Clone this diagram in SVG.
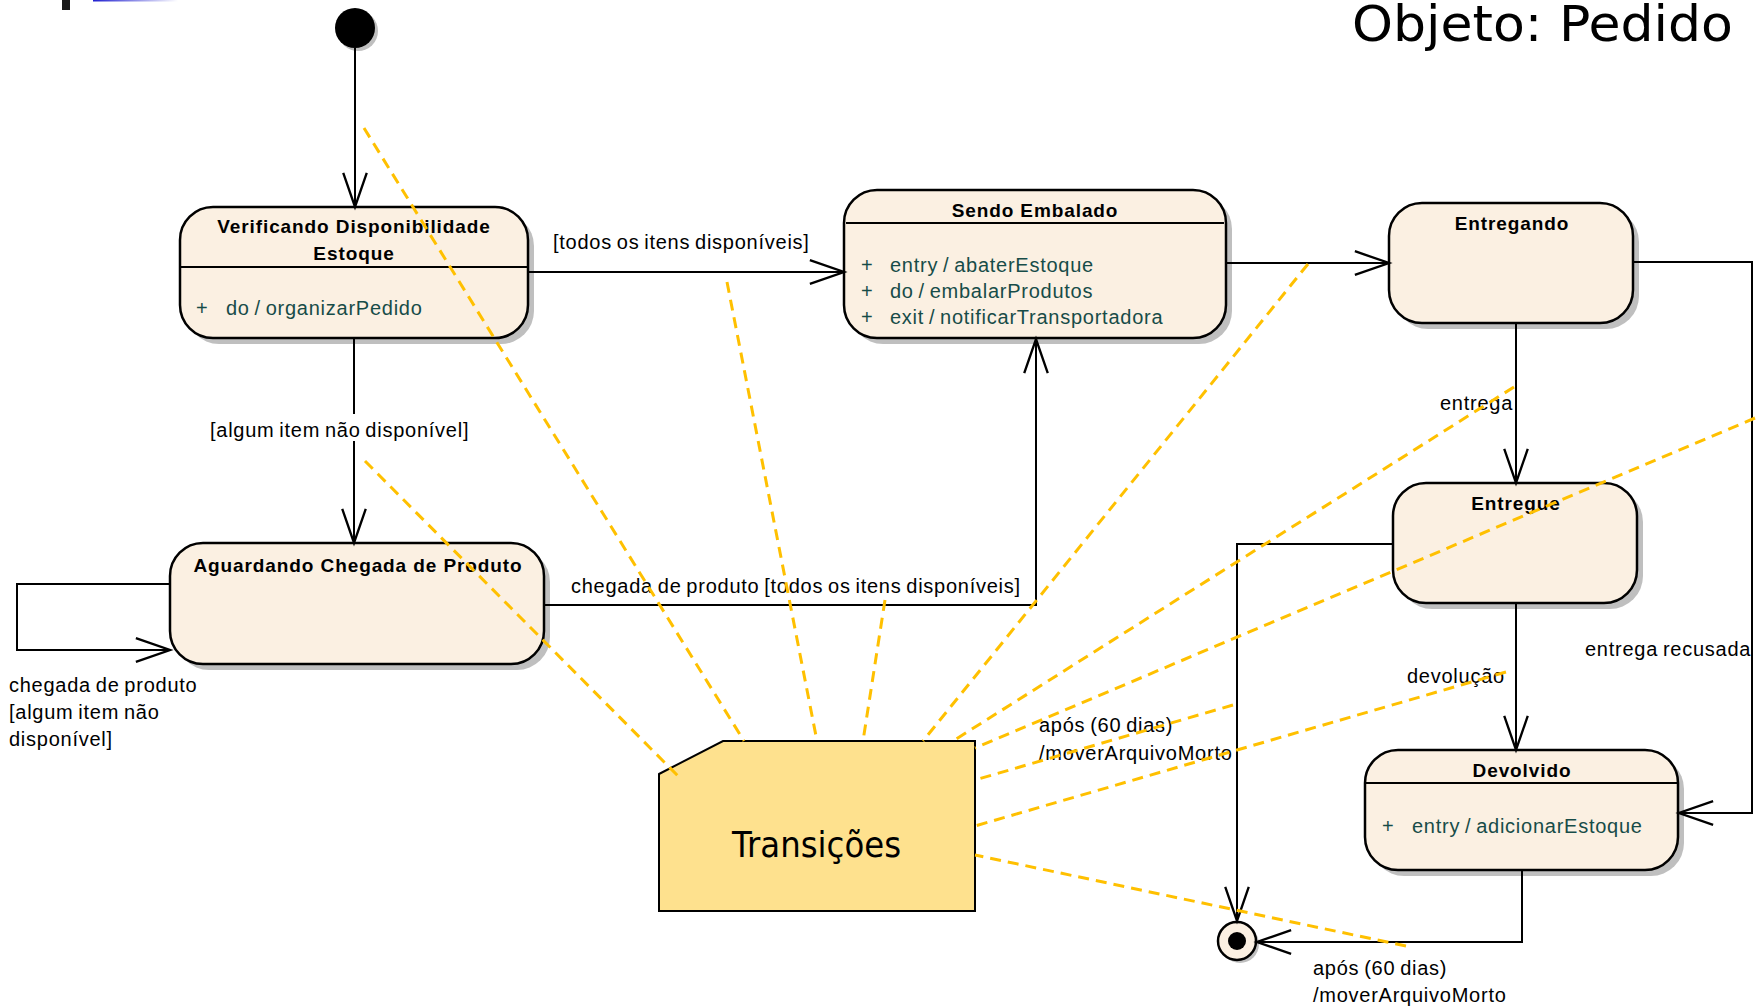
<svg xmlns="http://www.w3.org/2000/svg" width="1761" height="1008" viewBox="0 0 1761 1008">
<style>
.box{fill:#FBF0E2;stroke:#000;stroke-width:2.5}
.shd{fill:#BFBFBF}
.sep{stroke:#000;stroke-width:2}
.ttl{font-family:"Liberation Sans",Arial,sans-serif;font-size:19px;font-weight:bold;letter-spacing:0.9px;fill:#000;text-anchor:middle}
.op{font-family:"Liberation Sans",Arial,sans-serif;font-size:20px;letter-spacing:0.75px;word-spacing:-1.5px;fill:#174C48}
.lbl{font-family:"Liberation Sans",Arial,sans-serif;font-size:20px;letter-spacing:0.75px;word-spacing:-1.5px;fill:#000}
.con{fill:none;stroke:#000;stroke-width:2}
.dash{fill:none;stroke:#FFC000;stroke-width:3;stroke-dasharray:11 7}
</style>
<defs>
<marker id="arr" markerUnits="userSpaceOnUse" markerWidth="40" markerHeight="30" viewBox="-32 -12 34 24" refX="0" refY="0" orient="auto" overflow="visible">
<path d="M-29,-10 L0,0 L-29,10" fill="none" stroke="#000" stroke-width="2"/>
</marker>
<linearGradient id="bl" x1="0" x2="1" y1="0" y2="0">
<stop offset="0" stop-color="#2020D0"/>
<stop offset="1" stop-color="#FFFFFF"/>
</linearGradient>
</defs>
<rect width="1761" height="1008" fill="#fff"/>
<rect x="62" y="0" width="8" height="10" fill="#1a1a1a"/>
<rect x="93" y="0" width="85" height="1.5" fill="url(#bl)"/>
<text x="1352" y="41" font-family="'DejaVu Sans',Tahoma,sans-serif" font-size="49" textLength="381" lengthAdjust="spacingAndGlyphs" fill="#000">Objeto: Pedido</text>

<g id="initial">
<circle cx="358" cy="31" r="20" class="shd"/>
<circle cx="355" cy="28" r="20" fill="#000"/>
</g>

<g id="verificando">
<rect x="186" y="213" width="348" height="131" rx="33" class="shd"/>
<rect x="180" y="207" width="348" height="131" rx="33" class="box"/>
<line x1="180" y1="267" x2="528" y2="267" class="sep"/>
<text x="354" y="233" class="ttl">Verificando Disponibilidade</text>
<text x="354" y="260" class="ttl">Estoque</text>
<text x="196" y="315" class="op">+</text>
<text x="226" y="315" class="op">do / organizarPedido</text>
</g>

<g id="sendo">
<rect x="850" y="196" width="382" height="148" rx="33" class="shd"/>
<rect x="844" y="190" width="382" height="148" rx="33" class="box"/>
<line x1="846" y1="223" x2="1224" y2="223" class="sep"/>
<text x="1035" y="217" class="ttl">Sendo Embalado</text>
<text x="861" y="272" class="op">+</text>
<text x="890" y="272" class="op">entry / abaterEstoque</text>
<text x="861" y="298" class="op">+</text>
<text x="890" y="298" class="op">do / embalarProdutos</text>
<text x="861" y="324" class="op">+</text>
<text x="890" y="324" class="op">exit / notificarTransportadora</text>
</g>

<g id="entregando">
<rect x="1395" y="209" width="244" height="120" rx="33" class="shd"/>
<rect x="1389" y="203" width="244" height="120" rx="33" class="box"/>
<text x="1512" y="230" class="ttl">Entregando</text>
</g>

<g id="entregue">
<rect x="1399" y="489" width="244" height="120" rx="33" class="shd"/>
<rect x="1393" y="483" width="244" height="120" rx="33" class="box"/>
<text x="1516" y="510" class="ttl">Entregue</text>
</g>

<g id="devolvido">
<rect x="1371" y="756" width="313" height="120" rx="33" class="shd"/>
<rect x="1365" y="750" width="313" height="120" rx="33" class="box"/>
<line x1="1366" y1="783" x2="1677" y2="783" class="sep"/>
<text x="1522" y="777" class="ttl">Devolvido</text>
<text x="1382" y="833" class="op">+</text>
<text x="1412" y="833" class="op">entry / adicionarEstoque</text>
</g>

<g id="aguardando">
<rect x="176" y="549" width="374" height="121" rx="33" class="shd"/>
<rect x="170" y="543" width="374" height="121" rx="33" class="box"/>
<text x="358" y="572" class="ttl">Aguardando Chegada de Produto</text>
</g>

<g id="final">
<circle cx="1240" cy="944" r="19" class="shd"/>
<circle cx="1237" cy="941" r="19" fill="#FBF0E2" stroke="#000" stroke-width="2.5"/>
<circle cx="1237" cy="941" r="9" fill="#000"/>
</g>

<g id="transicoes">
<polygon points="659,774 723,741 975,741 975,911 659,911" fill="#FEE18E" stroke="#000" stroke-width="2"/>
<text x="732" y="857" font-family="'DejaVu Sans',Tahoma,sans-serif" font-size="36" textLength="169" lengthAdjust="spacingAndGlyphs" fill="#000">Transições</text>
</g>

<g id="connectors">
<path d="M355,48 V207" class="con" marker-end="url(#arr)"/>
<path d="M528,272 H844" class="con" marker-end="url(#arr)"/>
<path d="M354,338 V543" class="con" marker-end="url(#arr)"/>
<path d="M170,584 H17 V650 H170" class="con" marker-end="url(#arr)"/>
<path d="M544,605 H1036 V339" class="con" marker-end="url(#arr)"/>
<path d="M1226,263 H1389" class="con" marker-end="url(#arr)"/>
<path d="M1516,323 V483" class="con" marker-end="url(#arr)"/>
<path d="M1633,262 H1752 V813 H1679" class="con" marker-end="url(#arr)"/>
<path d="M1516,603 V750" class="con" marker-end="url(#arr)"/>
<path d="M1393,544 H1237 V921" class="con" marker-end="url(#arr)"/>
<path d="M1522,870 V942 H1257" class="con" marker-end="url(#arr)"/>
</g>

<g id="labels">
<text x="553" y="249" class="lbl">[todos os itens disponíveis]</text>
<rect x="208" y="414" width="272" height="27" fill="#fff"/>
<text x="210" y="437" class="lbl">[algum item não disponível]</text>
<text x="571" y="593" class="lbl">chegada de produto [todos os itens disponíveis]</text>
<text x="9" y="692" class="lbl">chegada de produto</text>
<text x="9" y="719" class="lbl">[algum item não</text>
<text x="9" y="746" class="lbl">disponível]</text>
<text x="1440" y="410" class="lbl">entrega</text>
<text x="1407" y="683" class="lbl">devolução</text>
<text x="1585" y="656" class="lbl">entrega recusada</text>
<text x="1039" y="732" class="lbl">após (60 dias)</text>
<text x="1039" y="760" class="lbl">/moverArquivoMorto</text>
<text x="1313" y="975" class="lbl">após (60 dias)</text>
<text x="1313" y="1002" class="lbl">/moverArquivoMorto</text>
</g>

<g id="note-links">
<line x1="364" y1="128" x2="744" y2="741" class="dash"/>
<line x1="365" y1="461" x2="682" y2="780" class="dash"/>
<line x1="727" y1="282" x2="817" y2="741" class="dash"/>
<line x1="885" y1="600" x2="863" y2="741" class="dash"/>
<line x1="1308" y1="264" x2="923" y2="741" class="dash"/>
<line x1="1514" y1="387" x2="953" y2="741" class="dash"/>
<line x1="1755" y1="418" x2="975" y2="748" class="dash"/>
<line x1="1233" y1="705" x2="975" y2="780" class="dash"/>
<line x1="1506" y1="672" x2="975" y2="826" class="dash"/>
<line x1="1406" y1="946" x2="975" y2="855" class="dash"/>
</g>
</svg>
